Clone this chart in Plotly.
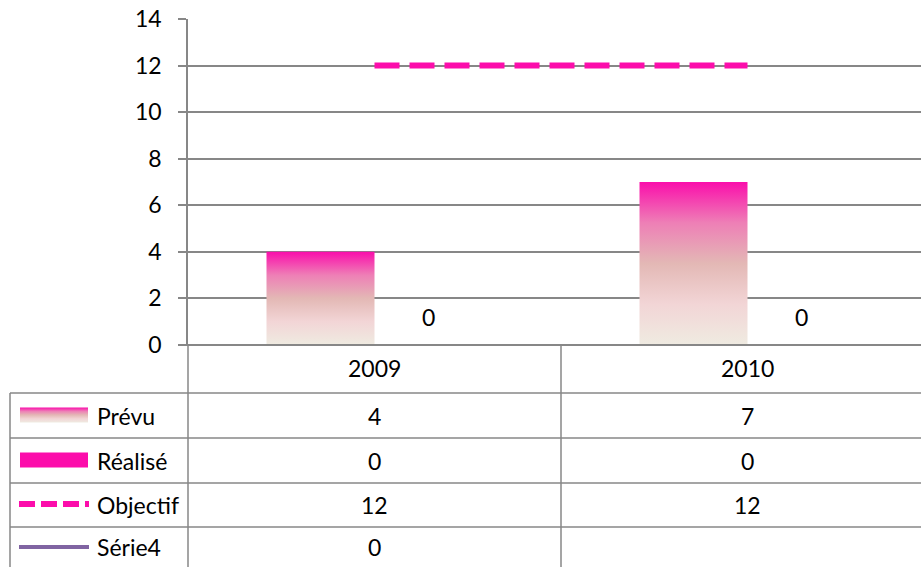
import plotly.graph_objects as go

# ---- data -----------------------------------------------------------------
categories = ["2009", "2010"]
prevu = [4, 7]
realise = [0, 0]
objectif = [12, 12]
serie4 = [0, None]
series_names = ["Prévu", "Réalisé", "Objectif", "Série4"]
y_ticks = [0, 2, 4, 6, 8, 10, 12, 14]

# ---- styling --------------------------------------------------------------
W, H = 921, 567
FONT = "Lato"
FONT_SIZE = 23
PINK = "#FC0DAB"
PURPLE = "#8064A2"
GRID = "#878787"
GRADIENT = [[0.0, "#EFEBE1"], [0.25, "#F2D5D6"], [0.5, "#E3B8B5"],
            [0.75, "#EE7FB6"], [1.0, "#FA0EAB"]]

# plot frame (pixels)
PL, PT, PB = 188, 19, 345
CAT_W = 373.0                      # width of one category in pixels
X_MIN = -0.5
X_MAX = X_MIN + (W - PL) / CAT_W
BAR_W = 108 / CAT_W                # bar width in category units

# data-table grid (pixels)
ROW_EDGES = [345, 393, 438, 483, 527, 567]
COL_EDGES = [10, 188, 561, 934]


def ty(px):
    """pixel row -> overlay y coordinate"""
    return H - px


fig = go.Figure()

# Prévu bars: gradient-filled rectangles
for i, v in enumerate(prevu):
    fig.add_trace(go.Scatter(
        x=[i - BAR_W, i, i, i - BAR_W, i - BAR_W],
        y=[0, 0, v, v, 0],
        mode="lines", fill="toself", line=dict(width=0),
        fillgradient=dict(type="vertical", colorscale=GRADIENT),
        name=series_names[0], showlegend=False, hoverinfo="skip"))

# Réalisé bars
fig.add_trace(go.Bar(
    x=[i + BAR_W / 2 for i in range(len(categories))], y=realise,
    width=BAR_W, marker=dict(color=PINK, line=dict(width=0)),
    name=series_names[1], showlegend=False))

# Objectif line
fig.add_trace(go.Scatter(
    x=list(range(len(categories))), y=objectif, mode="lines",
    line=dict(color=PINK, width=6, dash="25px,10px"),
    name=series_names[2], showlegend=False))

# Série4 line
fig.add_trace(go.Scatter(
    x=list(range(len(categories))), y=serie4, mode="lines",
    line=dict(color=PURPLE, width=4),
    name=series_names[3], showlegend=False))

annotations = []
# value labels for Réalisé
for i, v in enumerate(realise):
    annotations.append(dict(
        x=i + BAR_W / 2, y=v, xref="x", yref="y", text=str(v),
        showarrow=False, yshift=28, font=dict(family=FONT, size=FONT_SIZE, color="black")))

# ---- data table -----------------------------------------------------------
shapes = []
line_style = dict(color=GRID, width=1.5)
# horizontal rules
shapes.append(dict(type="line", xref="x2", yref="y2", x0=180, x1=W,
                   y0=ty(ROW_EDGES[0]), y1=ty(ROW_EDGES[0]), line=dict(color=GRID, width=2)))
for r in ROW_EDGES[1:-1]:
    shapes.append(dict(type="line", xref="x2", yref="y2", x0=COL_EDGES[0], x1=W,
                       y0=ty(r), y1=ty(r), line=line_style))
# vertical rules
shapes.append(dict(type="line", xref="x2", yref="y2", x0=COL_EDGES[0], x1=COL_EDGES[0],
                   y0=ty(ROW_EDGES[1]), y1=0, line=line_style))
shapes.append(dict(type="line", xref="x2", yref="y2", x0=COL_EDGES[1], x1=COL_EDGES[1],
                   y0=ty(PB), y1=0, line=line_style))
shapes.append(dict(type="line", xref="x2", yref="y2", x0=COL_EDGES[2], x1=COL_EDGES[2],
                   y0=ty(ROW_EDGES[0]), y1=0, line=line_style))

col_centers = [(COL_EDGES[k] + COL_EDGES[k + 1]) / 2 for k in (1, 2)]
row_centers = [(ROW_EDGES[k] + ROW_EDGES[k + 1]) / 2 for k in range(len(ROW_EDGES) - 1)]
cell_font = dict(family=FONT, size=FONT_SIZE, color="black")

# header row
for c, label in zip(col_centers, categories):
    annotations.append(dict(x=c, y=ty(row_centers[0] - 1), xref="x2", yref="y2", text=label,
                            showarrow=False, xanchor="center", yanchor="middle", font=cell_font))

# value rows
for r, values in enumerate([prevu, realise, objectif, serie4], start=1):
    for c, v in zip(col_centers, values):
        if v is None:
            continue
        annotations.append(dict(x=c, y=ty(row_centers[r]), xref="x2", yref="y2", text=str(v),
                                showarrow=False, xanchor="center", yanchor="middle",
                                font=cell_font))
    annotations.append(dict(x=95, y=ty(row_centers[r]), xref="x2", yref="y2",
                            text=series_names[r - 1], showarrow=False,
                            xanchor="left", yanchor="middle", font=cell_font))

# legend keys
# Prévu: gradient swatch
yc = row_centers[1]
fig.add_trace(go.Scatter(
    x=[20, 88, 88, 20, 20], y=[ty(yc + 7), ty(yc + 7), ty(yc - 8), ty(yc - 8), ty(yc + 7)],
    xaxis="x2", yaxis="y2", mode="lines", fill="toself", line=dict(width=0),
    fillgradient=dict(type="vertical", colorscale=GRADIENT),
    showlegend=False, hoverinfo="skip"))
# Réalisé: solid swatch
yc = row_centers[2]
shapes.append(dict(type="rect", xref="x2", yref="y2", x0=20, x1=88,
                   y0=ty(yc + 7), y1=ty(yc - 8), fillcolor=PINK, line=dict(width=0)))
# Objectif: dashed key
yc = row_centers[3]
fig.add_trace(go.Scatter(
    x=[19, 89], y=[ty(yc - 1), ty(yc - 1)], xaxis="x2", yaxis="y2", mode="lines",
    line=dict(color=PINK, width=6, dash="16px,6px"), showlegend=False, hoverinfo="skip"))
# Série4: solid key
yc = row_centers[4]
fig.add_trace(go.Scatter(
    x=[19, 89], y=[ty(yc), ty(yc)], xaxis="x2", yaxis="y2", mode="lines",
    line=dict(color=PURPLE, width=4), showlegend=False, hoverinfo="skip"))

fig.update_layout(
    width=W, height=H,
    margin=dict(l=0, r=0, t=0, b=0, pad=0, autoexpand=False),
    paper_bgcolor="white", plot_bgcolor="rgba(0,0,0,0)",
    showlegend=False, hovermode=False, bargap=0,
    font=dict(family=FONT, color="black"),
    xaxis=dict(domain=[PL / W, 1], range=[X_MIN, X_MAX], showgrid=False, zeroline=False,
               showticklabels=False, ticks="", showline=False, fixedrange=True,
               automargin=False),
    yaxis=dict(domain=[1 - PB / H, 1 - PT / H], range=[0, 14], tickvals=y_ticks,
               showgrid=True, gridcolor=GRID, gridwidth=1.5, zeroline=False,
               showline=True, linecolor=GRID, linewidth=1.5,
               ticks="outside", ticklen=8, tickcolor=GRID, tickwidth=1.5,
               ticklabelstandoff=12, tickfont=dict(family=FONT, size=FONT_SIZE, color="black"),
               fixedrange=True, automargin=False),
    xaxis2=dict(domain=[0, 1], range=[0, W], visible=False, anchor="y2", fixedrange=True,
                automargin=False),
    yaxis2=dict(domain=[0, 1], range=[0, H], visible=False, anchor="x2", fixedrange=True,
                automargin=False),
    shapes=shapes,
    annotations=annotations,
)

fig.write_html("out.html")
